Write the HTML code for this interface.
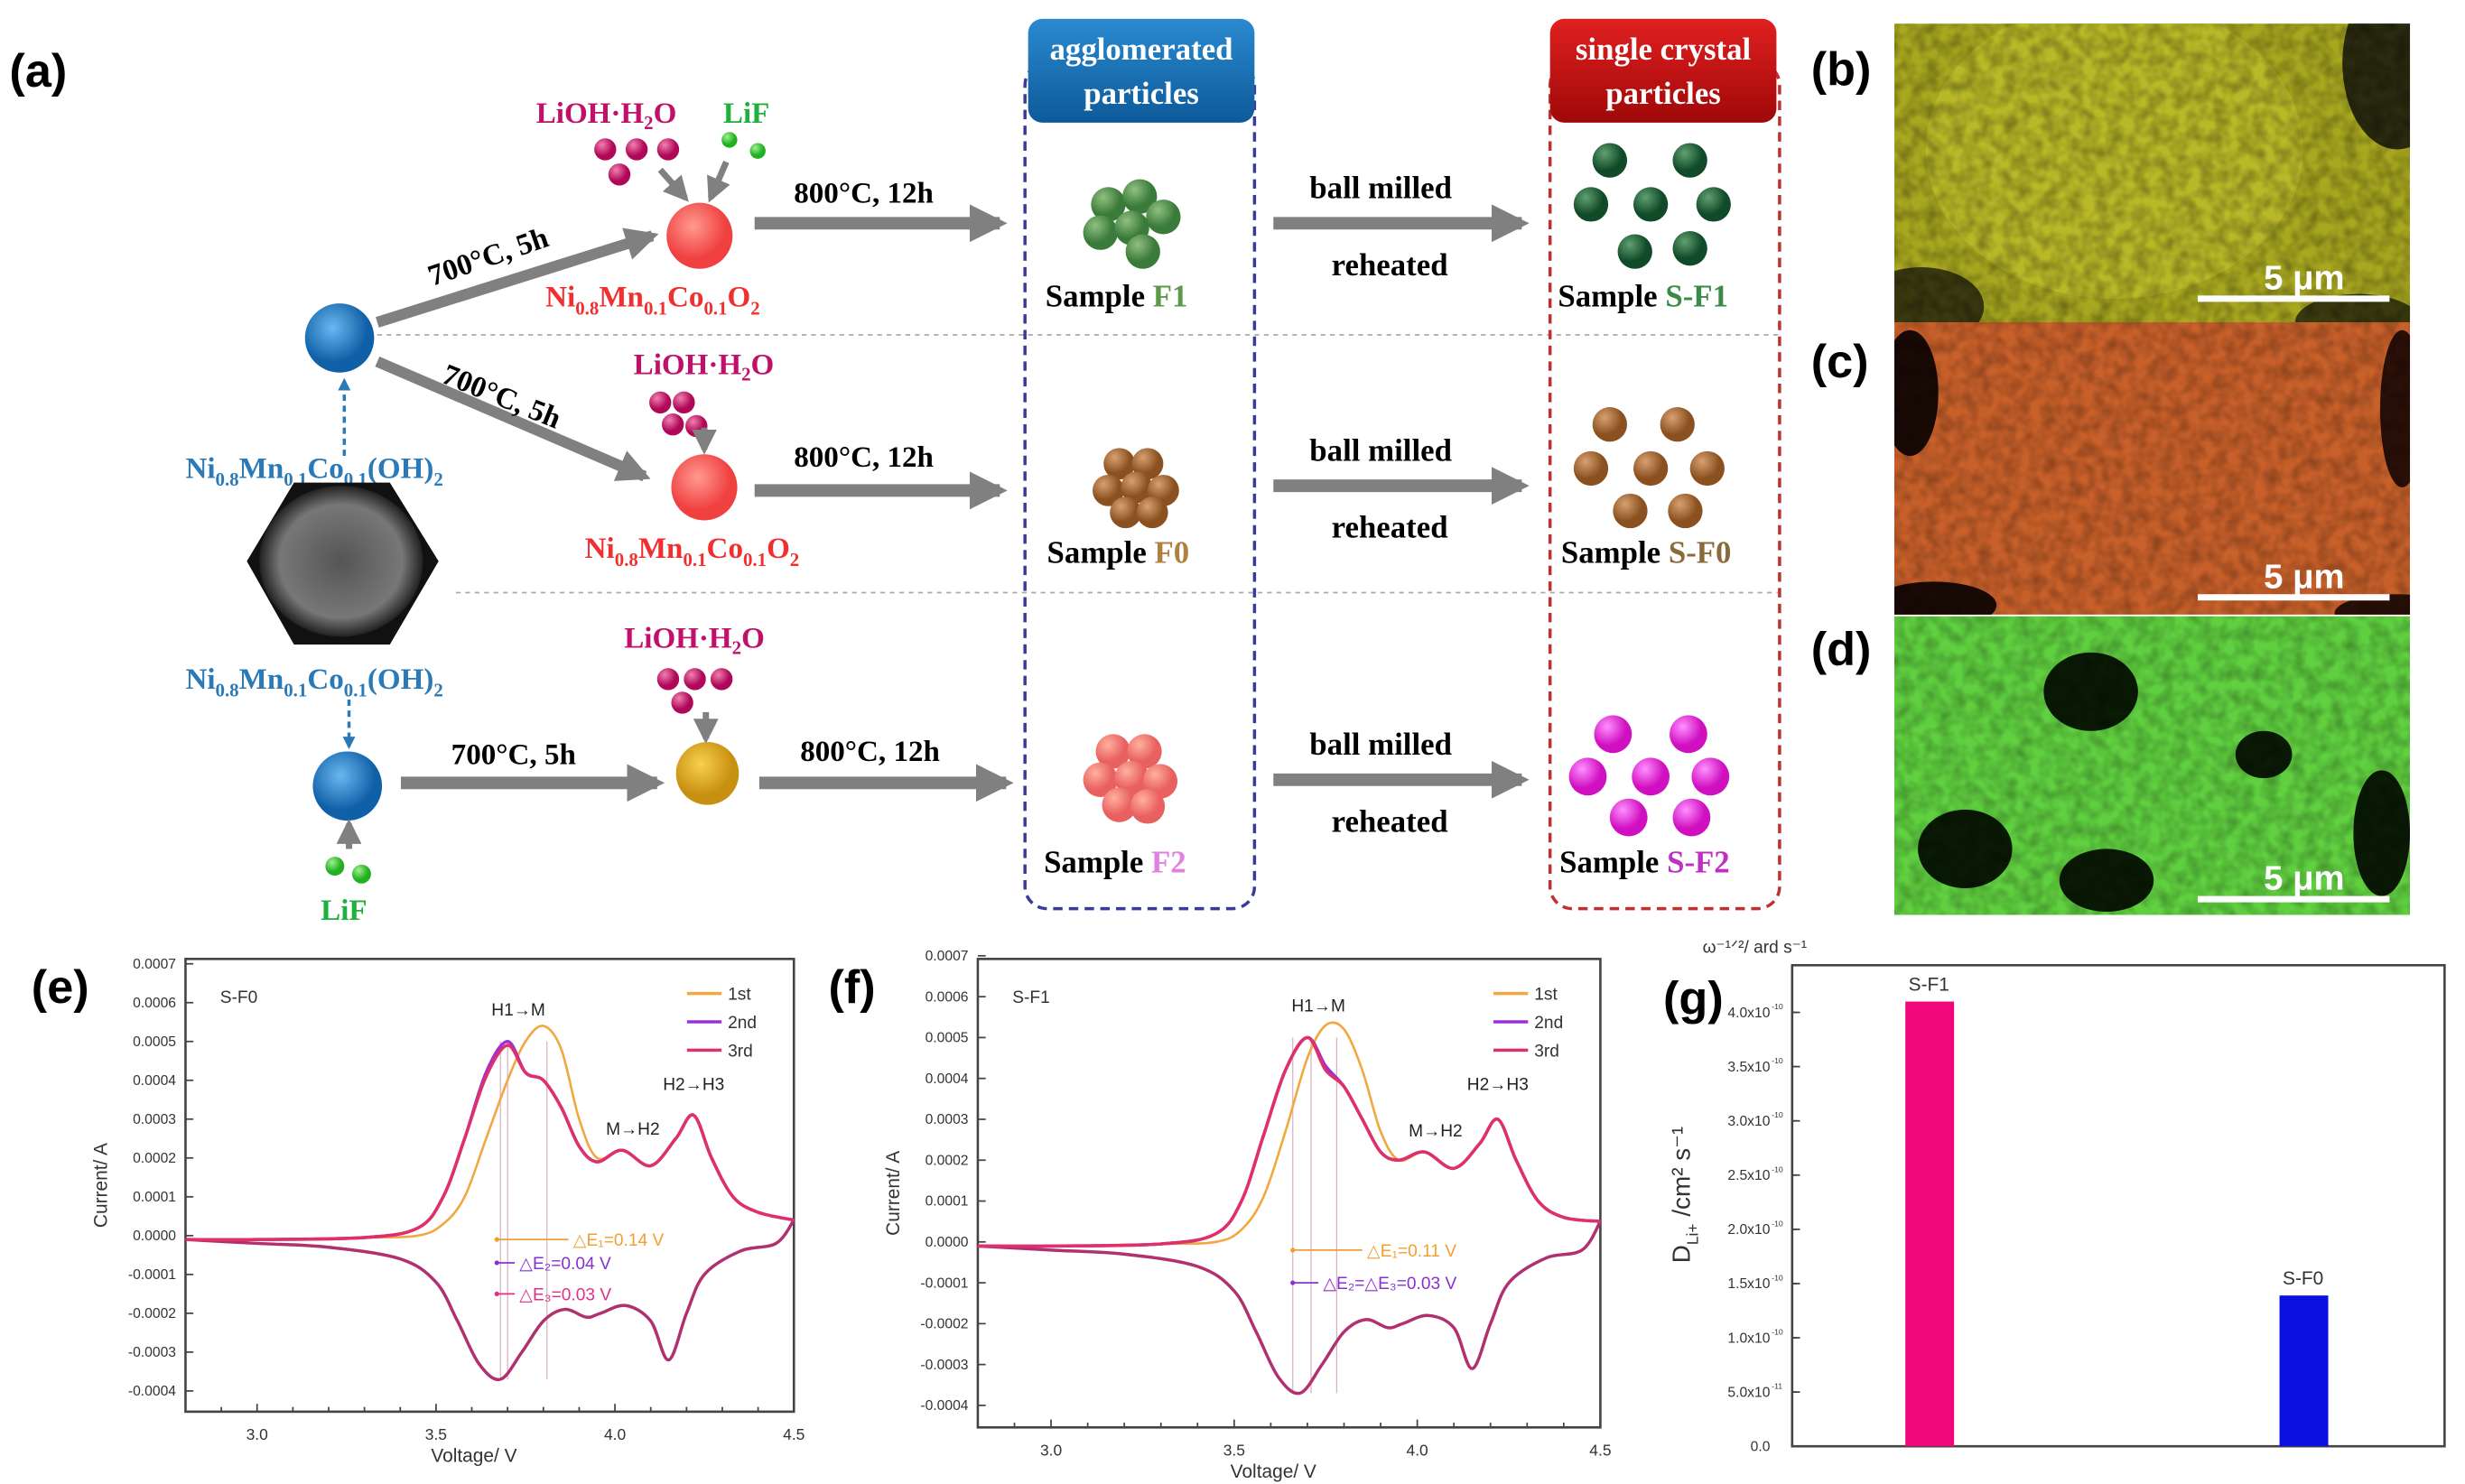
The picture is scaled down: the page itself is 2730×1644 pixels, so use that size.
<!DOCTYPE html>
<html><head><meta charset="utf-8"><style>
html,body{margin:0;padding:0;background:#fff;}
svg{display:block;}
.sf{font-family:"Liberation Serif",serif;font-weight:bold;}
.ss{font-family:"Liberation Sans",sans-serif;}
</style></head><body>
<svg id="fig" width="2730" height="1644" viewBox="0 0 1568 944" preserveAspectRatio="none" xmlns="http://www.w3.org/2000/svg">
<defs>
<marker id="ah" viewBox="0 0 10 10" refX="8" refY="5" markerWidth="3" markerHeight="3" orient="auto"><path d="M0,0L10,5L0,10z" fill="#808080"/></marker>
<marker id="ahs" viewBox="0 0 10 10" refX="8" refY="5" markerWidth="4" markerHeight="4" orient="auto"><path d="M0,0L10,5L0,10z" fill="#808080"/></marker>
<marker id="ahb" viewBox="0 0 10 10" refX="8" refY="5" markerWidth="4" markerHeight="4" orient="auto"><path d="M0,0L10,5L0,10z" fill="#2a7ab8"/></marker>
<linearGradient id="gBlue" x1="0" y1="0" x2="0" y2="1"><stop offset="0" stop-color="#2a8ad0"/><stop offset="1" stop-color="#0d5a9a"/></linearGradient>
<linearGradient id="gRed" x1="0" y1="0" x2="0" y2="1"><stop offset="0" stop-color="#e02020"/><stop offset="1" stop-color="#a00808"/></linearGradient>
<radialGradient id="bBlue" cx="0.4" cy="0.35"><stop offset="0" stop-color="#6ab8f0"/><stop offset="1" stop-color="#1060a8"/></radialGradient>
<radialGradient id="bRed" cx="0.4" cy="0.35"><stop offset="0" stop-color="#ff9a90"/><stop offset="1" stop-color="#f04040"/></radialGradient>
<radialGradient id="bYel" cx="0.4" cy="0.35"><stop offset="0" stop-color="#f8d050"/><stop offset="1" stop-color="#c89010"/></radialGradient>
<radialGradient id="bMag" cx="0.35" cy="0.3"><stop offset="0" stop-color="#f080b0"/><stop offset="1" stop-color="#b00858"/></radialGradient>
<radialGradient id="bGrn" cx="0.35" cy="0.3"><stop offset="0" stop-color="#a0f090"/><stop offset="1" stop-color="#20b020"/></radialGradient>
<radialGradient id="bDG" cx="0.35" cy="0.3"><stop offset="0" stop-color="#60a070"/><stop offset="1" stop-color="#104a28"/></radialGradient>
<radialGradient id="bMG" cx="0.35" cy="0.3"><stop offset="0" stop-color="#90c080"/><stop offset="1" stop-color="#3a7a3a"/></radialGradient>
<radialGradient id="bBr" cx="0.35" cy="0.3"><stop offset="0" stop-color="#d8a070"/><stop offset="1" stop-color="#8a5020"/></radialGradient>
<radialGradient id="bSal" cx="0.35" cy="0.3"><stop offset="0" stop-color="#ffb0a0"/><stop offset="1" stop-color="#e86060"/></radialGradient>
<radialGradient id="bPk" cx="0.35" cy="0.3"><stop offset="0" stop-color="#ff90ff"/><stop offset="1" stop-color="#d010c0"/></radialGradient>
<radialGradient id="semG" cx="0.5" cy="0.5"><stop offset="0" stop-color="#555"/><stop offset="0.75" stop-color="#777"/><stop offset="1" stop-color="#222"/></radialGradient>
<filter id="tex" x="0" y="0" width="1" height="1"><feTurbulence type="fractalNoise" baseFrequency="0.12" numOctaves="2" seed="3"/><feColorMatrix type="matrix" values="0 0 0 0 0  0 0 0 0 0  0 0 0 0 0  0 0 0 -1.6 1.1"/><feComposite in2="SourceGraphic" operator="in"/></filter>
<clipPath id="cb"><rect x="1205" y="15" width="328" height="190"/></clipPath>
<clipPath id="cc"><rect x="1205" y="205" width="328" height="186"/></clipPath>
<clipPath id="cd"><rect x="1205" y="392" width="328" height="190"/></clipPath>
</defs>

<g id="schematic">
<text class="ss" x="6" y="55" font-size="30" font-weight="bold">(a)</text>
<line x1="240" y1="213" x2="1132" y2="213" stroke="#aaa" stroke-dasharray="3,3"/>
<line x1="290" y1="377" x2="1132" y2="377" stroke="#aaa" stroke-dasharray="3,3"/>
<rect x="652" y="40" width="146" height="538" rx="14" fill="none" stroke="#3a3a9a" stroke-width="2" stroke-dasharray="6,4"/>
<rect x="986" y="40" width="146" height="538" rx="14" fill="none" stroke="#c03030" stroke-width="2" stroke-dasharray="6,4"/>
<rect x="654" y="12" width="144" height="66" rx="9" fill="url(#gBlue)"/>
<text class="sf" x="726" y="38" font-size="20" fill="#fff" text-anchor="middle">agglomerated</text>
<text class="sf" x="726" y="66" font-size="20" fill="#fff" text-anchor="middle">particles</text>
<rect x="986" y="12" width="144" height="66" rx="9" fill="url(#gRed)"/>
<text class="sf" x="1058" y="38" font-size="20" fill="#fff" text-anchor="middle">single crystal</text>
<text class="sf" x="1058" y="66" font-size="20" fill="#fff" text-anchor="middle">particles</text>

<circle cx="216" cy="215" r="22" fill="url(#bBlue)"/>
<line x1="219" y1="290" x2="219" y2="242" stroke="#2a7ab8" stroke-width="2" stroke-dasharray="4,3" marker-end="url(#ahb)"/>
<text class="sf" x="118" y="304" font-size="19" fill="#2a7ab8">Ni<tspan font-size="12" dy="5">0.8</tspan><tspan dy="-5">Mn</tspan><tspan font-size="12" dy="5">0.1</tspan><tspan dy="-5">Co</tspan><tspan font-size="12" dy="5">0.1</tspan><tspan dy="-5">(OH)</tspan><tspan font-size="12" dy="5">2</tspan></text>
<polygon points="157,357 187,307 248,307 279,357 248,410 187,410" fill="#111"/>
<ellipse cx="217" cy="357" rx="52" ry="48" fill="url(#semG)"/>
<text class="sf" x="118" y="438" font-size="19" fill="#2a7ab8">Ni<tspan font-size="12" dy="5">0.8</tspan><tspan dy="-5">Mn</tspan><tspan font-size="12" dy="5">0.1</tspan><tspan dy="-5">Co</tspan><tspan font-size="12" dy="5">0.1</tspan><tspan dy="-5">(OH)</tspan><tspan font-size="12" dy="5">2</tspan></text>
<line x1="222" y1="445" x2="222" y2="475" stroke="#2a7ab8" stroke-width="2" stroke-dasharray="4,3" marker-end="url(#ahb)"/>
<circle cx="221" cy="500" r="22" fill="url(#bBlue)"/>
<line x1="222" y1="540" x2="222" y2="524" stroke="#808080" stroke-width="4" marker-end="url(#ahs)"/>
<circle cx="213" cy="551" r="6" fill="url(#bGrn)"/><circle cx="230" cy="556" r="6" fill="url(#bGrn)"/>
<text class="sf" x="204" y="585" font-size="19" fill="#20b040">LiF</text>

<line x1="240" y1="205" x2="415" y2="150" stroke="#808080" stroke-width="7" marker-end="url(#ah)"/>
<text class="sf" x="275" y="182" font-size="19" transform="rotate(-19 275 182)">700°C, 5h</text>
<text class="sf" x="341" y="78" font-size="19" fill="#c0106a">LiOH·H<tspan font-size="12" dy="4">2</tspan><tspan dy="-4">O</tspan></text>
<text class="sf" x="460" y="78" font-size="19" fill="#20b040">LiF</text>
<circle cx="385" cy="95" r="7" fill="url(#bMag)"/><circle cx="405" cy="95" r="7" fill="url(#bMag)"/><circle cx="425" cy="95" r="7" fill="url(#bMag)"/><circle cx="394" cy="111" r="7" fill="url(#bMag)"/>
<circle cx="464" cy="89" r="5" fill="url(#bGrn)"/><circle cx="482" cy="96" r="5" fill="url(#bGrn)"/>
<line x1="420" y1="108" x2="436" y2="126" stroke="#808080" stroke-width="4" marker-end="url(#ahs)"/>
<line x1="462" y1="103" x2="452" y2="126" stroke="#808080" stroke-width="4" marker-end="url(#ahs)"/>
<circle cx="445" cy="150" r="21" fill="url(#bRed)"/>
<text class="sf" x="347" y="195" font-size="19" fill="#f03030">Ni<tspan font-size="12" dy="5">0.8</tspan><tspan dy="-5">Mn</tspan><tspan font-size="12" dy="5">0.1</tspan><tspan dy="-5">Co</tspan><tspan font-size="12" dy="5">0.1</tspan><tspan dy="-5">O</tspan><tspan font-size="12" dy="5">2</tspan></text>
<line x1="480" y1="142" x2="636" y2="142" stroke="#808080" stroke-width="8" marker-end="url(#ah)"/>
<text class="sf" x="505" y="129" font-size="19">800°C, 12h</text>

<line x1="240" y1="230" x2="410" y2="303" stroke="#808080" stroke-width="7" marker-end="url(#ah)"/>
<text class="sf" x="280" y="243" font-size="19" transform="rotate(22 280 243)">700°C, 5h</text>
<text class="sf" x="403" y="238" font-size="19" fill="#c0106a">LiOH·H<tspan font-size="12" dy="4">2</tspan><tspan dy="-4">O</tspan></text>
<circle cx="420" cy="256" r="7" fill="url(#bMag)"/><circle cx="435" cy="256" r="7" fill="url(#bMag)"/><circle cx="443" cy="271" r="7" fill="url(#bMag)"/><circle cx="428" cy="270" r="7" fill="url(#bMag)"/>
<line x1="448" y1="272" x2="448" y2="286" stroke="#808080" stroke-width="4" marker-end="url(#ahs)"/>
<circle cx="448" cy="310" r="21" fill="url(#bRed)"/>
<text class="sf" x="372" y="355" font-size="19" fill="#f03030">Ni<tspan font-size="12" dy="5">0.8</tspan><tspan dy="-5">Mn</tspan><tspan font-size="12" dy="5">0.1</tspan><tspan dy="-5">Co</tspan><tspan font-size="12" dy="5">0.1</tspan><tspan dy="-5">O</tspan><tspan font-size="12" dy="5">2</tspan></text>
<line x1="480" y1="312" x2="636" y2="312" stroke="#808080" stroke-width="8" marker-end="url(#ah)"/>
<text class="sf" x="505" y="297" font-size="19">800°C, 12h</text>

<line x1="255" y1="498" x2="418" y2="498" stroke="#808080" stroke-width="8" marker-end="url(#ah)"/>
<text class="sf" x="287" y="486" font-size="19">700°C, 5h</text>
<text class="sf" x="397" y="412" font-size="19" fill="#c0106a">LiOH·H<tspan font-size="12" dy="4">2</tspan><tspan dy="-4">O</tspan></text>
<circle cx="425" cy="432" r="7" fill="url(#bMag)"/><circle cx="442" cy="432" r="7" fill="url(#bMag)"/><circle cx="459" cy="432" r="7" fill="url(#bMag)"/><circle cx="434" cy="447" r="7" fill="url(#bMag)"/>
<line x1="449" y1="453" x2="449" y2="470" stroke="#808080" stroke-width="4" marker-end="url(#ahs)"/>
<circle cx="450" cy="492" r="20" fill="url(#bYel)"/>
<line x1="483" y1="498" x2="640" y2="498" stroke="#808080" stroke-width="8" marker-end="url(#ah)"/>
<text class="sf" x="509" y="484" font-size="19">800°C, 12h</text>

<g><circle cx="705" cy="130" r="11" fill="url(#bMG)"/><circle cx="725" cy="125" r="11" fill="url(#bMG)"/><circle cx="740" cy="138" r="11" fill="url(#bMG)"/><circle cx="700" cy="148" r="11" fill="url(#bMG)"/><circle cx="720" cy="145" r="11" fill="url(#bMG)"/><circle cx="727" cy="160" r="11" fill="url(#bMG)"/></g>
<g><circle cx="712" cy="295" r="10" fill="url(#bBr)"/><circle cx="730" cy="295" r="10" fill="url(#bBr)"/><circle cx="705" cy="312" r="10" fill="url(#bBr)"/><circle cx="723" cy="310" r="10" fill="url(#bBr)"/><circle cx="740" cy="312" r="10" fill="url(#bBr)"/><circle cx="716" cy="326" r="10" fill="url(#bBr)"/><circle cx="733" cy="326" r="10" fill="url(#bBr)"/></g>
<g><circle cx="708" cy="478" r="11" fill="url(#bSal)"/><circle cx="728" cy="478" r="11" fill="url(#bSal)"/><circle cx="700" cy="496" r="11" fill="url(#bSal)"/><circle cx="720" cy="495" r="11" fill="url(#bSal)"/><circle cx="738" cy="497" r="11" fill="url(#bSal)"/><circle cx="712" cy="512" r="11" fill="url(#bSal)"/><circle cx="730" cy="513" r="11" fill="url(#bSal)"/></g>
<text class="sf" x="665" y="195" font-size="20">Sample <tspan fill="#5a9a4a">F1</tspan></text>
<text class="sf" x="666" y="358" font-size="20">Sample <tspan fill="#b08040">F0</tspan></text>
<text class="sf" x="664" y="555" font-size="20">Sample <tspan fill="#e080e0">F2</tspan></text>

<g>
<line x1="810" y1="142" x2="968" y2="142" stroke="#808080" stroke-width="8" marker-end="url(#ah)"/>
<line x1="810" y1="309" x2="968" y2="309" stroke="#808080" stroke-width="8" marker-end="url(#ah)"/>
<line x1="810" y1="496" x2="968" y2="496" stroke="#808080" stroke-width="8" marker-end="url(#ah)"/>
</g>
<text class="sf" x="833" y="126" font-size="20">ball milled</text><text class="sf" x="847" y="175" font-size="20">reheated</text>
<text class="sf" x="833" y="293" font-size="20">ball milled</text><text class="sf" x="847" y="342" font-size="20">reheated</text>
<text class="sf" x="833" y="480" font-size="20">ball milled</text><text class="sf" x="847" y="529" font-size="20">reheated</text>

<g><circle cx="1024" cy="102" r="11" fill="url(#bDG)"/><circle cx="1075" cy="102" r="11" fill="url(#bDG)"/><circle cx="1012" cy="130" r="11" fill="url(#bDG)"/><circle cx="1050" cy="130" r="11" fill="url(#bDG)"/><circle cx="1090" cy="130" r="11" fill="url(#bDG)"/><circle cx="1040" cy="160" r="11" fill="url(#bDG)"/><circle cx="1075" cy="158" r="11" fill="url(#bDG)"/></g>
<g><circle cx="1024" cy="270" r="11" fill="url(#bBr)"/><circle cx="1067" cy="270" r="11" fill="url(#bBr)"/><circle cx="1012" cy="298" r="11" fill="url(#bBr)"/><circle cx="1050" cy="298" r="11" fill="url(#bBr)"/><circle cx="1086" cy="298" r="11" fill="url(#bBr)"/><circle cx="1037" cy="325" r="11" fill="url(#bBr)"/><circle cx="1072" cy="325" r="11" fill="url(#bBr)"/></g>
<g><circle cx="1026" cy="467" r="12" fill="url(#bPk)"/><circle cx="1074" cy="467" r="12" fill="url(#bPk)"/><circle cx="1010" cy="494" r="12" fill="url(#bPk)"/><circle cx="1050" cy="494" r="12" fill="url(#bPk)"/><circle cx="1088" cy="494" r="12" fill="url(#bPk)"/><circle cx="1036" cy="520" r="12" fill="url(#bPk)"/><circle cx="1076" cy="520" r="12" fill="url(#bPk)"/></g>
<text class="sf" x="991" y="195" font-size="20">Sample <tspan fill="#3a8a4a">S-F1</tspan></text>
<text class="sf" x="993" y="358" font-size="20">Sample <tspan fill="#8a6a3a">S-F0</tspan></text>
<text class="sf" x="992" y="555" font-size="20">Sample <tspan fill="#c030c0">S-F2</tspan></text>
</g>

<g id="sem">
<text class="ss" x="1152" y="54" font-size="30" font-weight="bold">(b)</text>
<text class="ss" x="1152" y="240" font-size="30" font-weight="bold">(c)</text>
<text class="ss" x="1152" y="423" font-size="30" font-weight="bold">(d)</text>
<g clip-path="url(#cb)">
<rect x="1205" y="15" width="328" height="190" fill="#a8a820"/>
<ellipse cx="1525" cy="40" rx="35" ry="55" fill="#2a2a10"/><ellipse cx="1222" cy="195" rx="40" ry="25" fill="#3a3a10"/><ellipse cx="1500" cy="205" rx="40" ry="18" fill="#3a3a10"/>
<ellipse cx="1345" cy="95" rx="120" ry="95" fill="#b8b828"/>
<rect x="1205" y="15" width="328" height="190" fill="#fff" filter="url(#tex)" opacity="0.35"/>
<line x1="1398" y1="190" x2="1520" y2="190" stroke="#fff" stroke-width="4"/>
<text class="ss" x="1440" y="184" font-size="22" font-weight="bold" fill="#fff">5 μm</text>
</g>
<g clip-path="url(#cc)">
<rect x="1205" y="205" width="328" height="186" fill="#c8602a"/>
<ellipse cx="1215" cy="250" rx="18" ry="40" fill="#1a0a05"/><ellipse cx="1230" cy="385" rx="40" ry="15" fill="#1a0a05"/><ellipse cx="1528" cy="260" rx="14" ry="50" fill="#2a1008"/><ellipse cx="1525" cy="390" rx="40" ry="12" fill="#2a1008"/>
<rect x="1205" y="205" width="328" height="186" fill="#fff" filter="url(#tex)" opacity="0.3"/>
<line x1="1398" y1="380" x2="1520" y2="380" stroke="#fff" stroke-width="4"/>
<text class="ss" x="1440" y="374" font-size="22" font-weight="bold" fill="#fff">5 μm</text>
</g>
<g clip-path="url(#cd)">
<rect x="1205" y="392" width="328" height="190" fill="#60d040"/>
<ellipse cx="1330" cy="440" rx="30" ry="25" fill="#0a1a05"/><ellipse cx="1250" cy="540" rx="30" ry="25" fill="#0a1a05"/><ellipse cx="1340" cy="560" rx="30" ry="20" fill="#0a1a05"/><ellipse cx="1515" cy="530" rx="18" ry="40" fill="#0a1a05"/><ellipse cx="1440" cy="480" rx="18" ry="15" fill="#0a1a05"/>
<rect x="1205" y="392" width="328" height="190" fill="#fff" filter="url(#tex)" opacity="0.3"/>
<line x1="1398" y1="572" x2="1520" y2="572" stroke="#fff" stroke-width="4"/>
<text class="ss" x="1440" y="566" font-size="22" font-weight="bold" fill="#fff">5 μm</text>
</g>
</g>

<g id="chartE"></g>
<g id="chartF"></g>
<g id="chartG"></g>
</svg>
<script>
const anodicV = [2.8,3.0,3.3,3.45,3.52,3.58,3.64,3.70,3.75,3.80,3.85,3.90,3.95,4.02,4.10,4.17,4.22,4.27,4.33,4.40,4.50];
const e_cycle1 = [-0.00001,-0.00001,-0.000005,0,0.00003,0.0001,0.00025,0.0004,0.0005,0.00054,0.00048,0.0003,0.0002,0.00022,0.00018,0.00025,0.00031,0.0002,0.0001,0.00006,0.00004];
const e_cycle2 = [-0.00001,-0.00001,-0.000005,0.00002,0.0001,0.00025,0.00042,0.0005,0.00042,0.0004,0.00033,0.00023,0.00019,0.00022,0.00018,0.00025,0.00031,0.0002,0.0001,0.00006,0.00004];
const e_cycle3 = [-0.00001,-0.00001,-0.000005,0.00002,0.0001,0.00025,0.00041,0.00049,0.00042,0.0004,0.00033,0.00023,0.00019,0.00022,0.00018,0.00025,0.00031,0.0002,0.0001,0.00006,0.00004];
const f_cycle1 = [-0.00001,-0.00001,-0.000005,0,0.00003,0.00011,0.00027,0.00045,0.00053,0.00052,0.00042,0.00027,0.0002,0.00022,0.00018,0.00024,0.0003,0.0002,0.0001,0.00006,0.00005];
const f_cycle2 = [-0.00001,-0.00001,-0.000005,0.00002,0.0001,0.00026,0.00042,0.0005,0.00043,0.00038,0.0003,0.00022,0.0002,0.00022,0.00018,0.00024,0.0003,0.0002,0.0001,0.00006,0.00005];
const f_cycle3 = [-0.00001,-0.00001,-0.000005,0.00002,0.0001,0.00026,0.00042,0.0005,0.00042,0.00038,0.0003,0.00022,0.0002,0.00022,0.00018,0.00024,0.0003,0.0002,0.0001,0.00006,0.00005];
const cathodicV = [4.5,4.45,4.35,4.25,4.2,4.15,4.1,4.03,3.96,3.92,3.86,3.80,3.74,3.68,3.62,3.56,3.5,3.4,3.2,3.0,2.8];
const e_cathodic = [0.00004,-0.00002,-0.00004,-0.0001,-0.0002,-0.00032,-0.00022,-0.00018,-0.0002,-0.00021,-0.00019,-0.00022,-0.0003,-0.00037,-0.00033,-0.00022,-0.00012,-0.00006,-0.00003,-0.00002,-0.00001];
const f_cathodic = [0.00005,-0.00002,-0.00004,-0.0001,-0.0002,-0.00031,-0.00021,-0.00018,-0.0002,-0.00021,-0.00019,-0.00022,-0.0003,-0.00037,-0.00033,-0.00022,-0.00012,-0.00006,-0.00003,-0.00002,-0.00001];
const cvXTicks = [3.0,3.5,4.0,4.5];
const cvXTickLabels = ["3.0","3.5","4.0","4.5"];
const cvYTicks = [0.0007,0.0006,0.0005,0.0004,0.0003,0.0002,0.0001,0,-0.0001,-0.0002,-0.0003,-0.0004];
const cvYTickLabels = ["0.0007","0.0006","0.0005","0.0004","0.0003","0.0002","0.0001","0.0000","-0.0001","-0.0002","-0.0003","-0.0004"];
const cycleLabels = ["1st","2nd","3rd"];
const barCategories = ["S-F1","S-F0"];
const barValues = [4.1e-10, 1.39e-10];
const barYTicks = [0,5e-11,1e-10,1.5e-10,2e-10,2.5e-10,3e-10,3.5e-10,4e-10];
const barYTickLabels = ["0.0","5.0x10","1.0x10","1.5x10","2.0x10","2.5x10","3.0x10","3.5x10","4.0x10"];
const barYTickExp = ["","-11","-10","-10","-10","-10","-10","-10","-10"];

const NS="http://www.w3.org/2000/svg";
function mk(parent,tag,attrs,text){const el=document.createElementNS(NS,tag);for(const k in attrs)el.setAttribute(k,attrs[k]);if(text!==undefined)el.textContent=text;parent.appendChild(el);return el;}
function smooth(pts){let d="M"+pts[0][0].toFixed(2)+","+pts[0][1].toFixed(2);for(let i=0;i<pts.length-1;i++){const p0=pts[Math.max(0,i-1)],p1=pts[i],p2=pts[i+1],p3=pts[Math.min(pts.length-1,i+2)];const c1=[p1[0]+(p2[0]-p0[0])/6,p1[1]+(p2[1]-p0[1])/6],c2=[p2[0]-(p3[0]-p1[0])/6,p2[1]-(p3[1]-p1[1])/6];d+="C"+c1[0].toFixed(2)+","+c1[1].toFixed(2)+" "+c2[0].toFixed(2)+","+c2[1].toFixed(2)+" "+p2[0].toFixed(2)+","+p2[1].toFixed(2);}return d;}

function cvChart(g,cfg){
  const sx=v=>cfg.x0+(v-2.8)/1.7*(cfg.x1-cfg.x0);
  const sy=i=>cfg.zero-i*cfg.k;
  mk(g,"text",{x:cfg.lx,y:cfg.y0+28,"font-size":30,"font-weight":"bold",class:"ss"},cfg.label);
  const frame=mk(g,"rect",{x:cfg.x0,y:cfg.y0,width:cfg.x1-cfg.x0,height:cfg.y1-cfg.y0,fill:"none",stroke:"#444","stroke-width":1.5});
  
  
  cvXTicks.forEach((t,i)=>{const x=sx(t);mk(g,"line",{x1:x,x2:x,y1:cfg.y1,y2:cfg.y1-5,stroke:"#444"});
    const tl=mk(g,"text",{x:x,y:cfg.y1+18,"font-size":10,"text-anchor":"middle",fill:"#333",class:"ss"},cvXTickLabels[i]);
    
    });
  [2.9,3.1,3.2,3.3,3.4,3.6,3.7,3.8,3.9,4.1,4.2,4.3,4.4].forEach(t=>{const x=sx(t);mk(g,"line",{x1:x,x2:x,y1:cfg.y1,y2:cfg.y1-3,stroke:"#444"});});
  cvYTicks.forEach((t,i)=>{const y=sy(t);mk(g,"line",{x1:cfg.x0,x2:cfg.x0+5,y1:y,y2:y,stroke:"#444"});
    const tl=mk(g,"text",{x:cfg.x0-6,y:y+3,"font-size":9,"text-anchor":"end",fill:"#333",class:"ss"},cvYTickLabels[i]);
    
    });
  const xt=mk(g,"text",{x:(cfg.x0+cfg.x1)/2-10,y:cfg.y1+32,"font-size":12,"text-anchor":"middle",fill:"#333",class:"ss"},"Voltage/ V");
  
  
  const yx=cfg.x0-50,yy=(cfg.y0+cfg.y1)/2;
  const yt=mk(g,"text",{x:yx,y:yy,"font-size":12,"text-anchor":"middle",fill:"#333",class:"ss",transform:"rotate(-90 "+yx+" "+yy+")"},"Current/ A");
  
  
  mk(g,"text",{x:cfg.x0+22,y:cfg.y0+28,"font-size":11,fill:"#333",class:"ss"},cfg.sample);
  const colors=["#f2a840","#9b30d8","#e0306a"];
  cfg.guides.forEach(v=>mk(g,"line",{x1:sx(v),x2:sx(v),y1:sy(0.0005),y2:sy(-0.00037),stroke:"#d8b0c0","stroke-width":0.7}));
  const cp=cathodicV.map((v,i)=>[sx(v),sy(cfg.cath[i])]);
  const cath=mk(g,"path",{d:smooth(cp),fill:"none",stroke:"#b03070","stroke-width":2});
  
  
  cfg.cycles.forEach((arr,ci)=>{const pts=anodicV.map((v,i)=>[sx(v),sy(arr[i])]);
    const p=mk(g,"path",{d:smooth(pts),fill:"none",stroke:colors[ci],"stroke-width":ci==0?1.5:2});
    
    
    const ly=cfg.y0+22+ci*18;
    mk(g,"line",{x1:cfg.x1-68,x2:cfg.x1-46,y1:ly,y2:ly,stroke:colors[ci],"stroke-width":2});
    const lt=mk(g,"text",{x:cfg.x1-42,y:ly+4,"font-size":11,fill:"#333",class:"ss"},cycleLabels[ci]);
    
    });
  mk(g,"text",{x:sx(3.73),y:sy(0.00051)-14,"font-size":11,fill:"#222",class:"ss","text-anchor":"middle"},"H1→M");
  mk(g,"text",{x:sx(4.05),y:sy(0.00022)-10,"font-size":11,fill:"#222",class:"ss","text-anchor":"middle"},"M→H2");
  mk(g,"text",{x:sx(4.22),y:sy(0.00031)-16,"font-size":11,fill:"#222",class:"ss","text-anchor":"middle"},"H2→H3");
  cfg.notes.forEach(n=>{const y=sy(n.i);mk(g,"line",{x1:sx(n.v0),x2:sx(n.v1),y1:y,y2:y,stroke:n.c,"stroke-width":1});
    mk(g,"circle",{cx:sx(n.v0),cy:y,r:1.5,fill:n.c});
    mk(g,"text",{x:sx(n.v1)+3,y:y+4,"font-size":11,fill:n.c,class:"ss"},n.t);});
}
cvChart(document.getElementById("chartE"),{label:"(e)",lx:20,x0:118,x1:505,y0:610,y1:898,zero:786,k:247000,sample:"S-F0",
  cycles:[e_cycle1,e_cycle2,e_cycle3],cath:e_cathodic,guides:[3.68,3.70,3.81],
  notes:[{v0:3.67,v1:3.87,i:-0.00001,c:"#f0a030",t:"△E₁=0.14 V"},{v0:3.67,v1:3.72,i:-0.00007,c:"#8a30d0",t:"△E₂=0.04 V"},{v0:3.67,v1:3.72,i:-0.00015,c:"#e0308a",t:"△E₃=0.03 V"}]});
cvChart(document.getElementById("chartF"),{label:"(f)",lx:527,x0:622,x1:1018,y0:610,y1:908,zero:790,k:260000,sample:"S-F1",
  cycles:[f_cycle1,f_cycle2,f_cycle3],cath:f_cathodic,guides:[3.66,3.71,3.78],
  notes:[{v0:3.66,v1:3.85,i:-0.00002,c:"#f0a030",t:"△E₁=0.11 V"},{v0:3.66,v1:3.73,i:-0.0001,c:"#8a30d0",t:"△E₂=△E₃=0.03 V"}]});

(function(){
  const g=document.getElementById("chartG");
  const x0=1140,x1=1555,y0=614,y1=920,k=276/4e-10;
  const sy=v=>y1-v*k;
  const xc=[1227,1465];
  mk(g,"text",{x:1058,y:645,"font-size":30,"font-weight":"bold",class:"ss"},"(g)");
  mk(g,"text",{x:1083,y:606,"font-size":11,fill:"#333",class:"ss"},"ω⁻¹ᐟ²/ ard s⁻¹");
  const fr=mk(g,"rect",{x:x0,y:y0,width:x1-x0,height:y1-y0,fill:"none",stroke:"#444","stroke-width":1.5});
  
  
  barYTicks.forEach((t,i)=>{const y=sy(t);mk(g,"line",{x1:x0,x2:x0+5,y1:y,y2:y,stroke:"#444"});
    if(i<barYTicks.length-1)mk(g,"line",{x1:x0,x2:x0+3,y1:y-69/2,y2:y-69/2,stroke:"#444"});
    const tl=mk(g,"text",{x:x0-14,y:y+3,"font-size":9,"text-anchor":"end",fill:"#333",class:"ss"},barYTickLabels[i]);
    
    
    if(barYTickExp[i])mk(g,"text",{x:x0-13,y:y-2,"font-size":5,fill:"#333",class:"ss"},barYTickExp[i]);});
  const yx=1075,yy=760;
  const yt=mk(g,"text",{x:yx,y:yy,"font-size":16,"text-anchor":"middle",fill:"#333",class:"ss",transform:"rotate(-90 "+yx+" "+yy+")"});
  yt.innerHTML='D<tspan font-size="10" dy="5">Li+</tspan><tspan dy="-5"> /cm² s⁻¹</tspan>';
  
  
  const cols=["#f0087a","#0a10e0"];
  barValues.forEach((v,i)=>{const b=mk(g,"rect",{x:xc[i]-15,y:sy(v),width:31,height:y1-sy(v),fill:cols[i]});
    
    
    const l=mk(g,"text",{x:xc[i],y:sy(v)-7,"font-size":12,"text-anchor":"middle",fill:"#333",class:"ss"},barCategories[i]);
    
    });
})();
</script>
</body></html>
